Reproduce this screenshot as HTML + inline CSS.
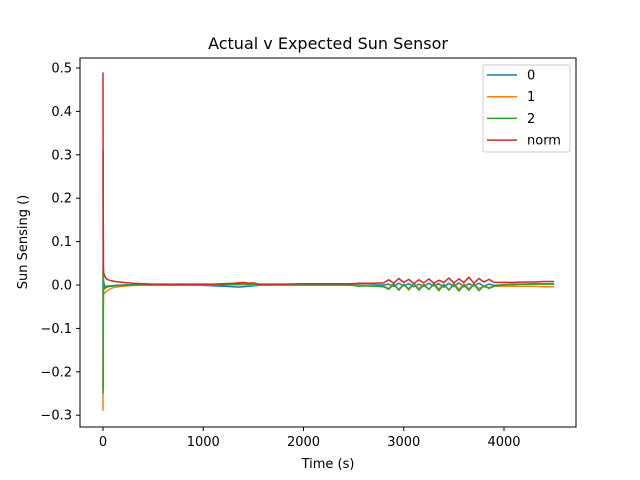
<!DOCTYPE html>
<html><head><meta charset="utf-8"><style>
body{margin:0;background:#fff}
svg{display:block;font-family:"DejaVu Sans","Liberation Sans",sans-serif}
</style></head><body>
<svg id="chart" width="640" height="480">
<rect x="0" y="0" width="640" height="480" fill="#fff"/>
<text x="328" y="49" text-anchor="middle" font-size="16">Actual v Expected Sun Sensor</text>
<text x="328" y="468" text-anchor="middle" font-size="13">Time (s)</text>
<text transform="translate(27,242) rotate(-90)" text-anchor="middle" font-size="13">Sun Sensing ()</text>
<g id="ticks"></g>
<clipPath id="clip"><rect x="80" y="58" width="496" height="369"/></clipPath>
<g id="series" clip-path="url(#clip)"></g>
<rect x="80" y="58" width="496" height="369" fill="none" stroke="#000" stroke-width="1"/>
<g id="legend">
<rect x="483" y="65" width="87" height="87" fill="#fff" fill-opacity="0.8" stroke="#ccc" rx="2"/>
</g>
</svg>
<script>
const times=[0,2,4,6,10,20,30,50,80,120,200,300,400,500,600,700,800,900,1000,1100,1200,1300,1350,1400,1450,1500,1550,1600,1800,2000,2200,2400,2500,2550,2600,2700,2800,2850,2900,2950,3000,3050,3100,3150,3200,3250,3300,3350,3400,3450,3500,3550,3600,3650,3700,3750,3800,3850,3900,4000,4100,4200,4300,4400,4500];
const s0=[0.31,-0.24,0.02,-0.01,0.005,-0.005,-0.003,-0.002,-0.002,-0.001,0,0.001,0.001,0.001,0,0,0,0,-0.001,-0.002,-0.003,-0.004,-0.005,-0.004,-0.003,-0.002,-0.001,0,0.001,0.001,0.001,0.001,0,0,0,0,0,0.002,-0.003,0.004,-0.002,0.003,-0.004,0.002,-0.003,0.004,-0.002,0.003,-0.005,0.004,-0.003,0.005,-0.004,0.003,-0.002,0.004,-0.003,0.002,-0.001,0.001,0.002,0.002,0.003,0.003,0.003];
const s1=[-0.29,0.1,-0.05,-0.02,-0.02,-0.018,-0.015,-0.012,-0.008,-0.005,-0.003,-0.001,0,0,0.001,-0.001,0.001,0,0,0,0,0.001,0,0.001,0,-0.001,0,0,0,0,0,0,0,-0.002,0,-0.002,-0.003,-0.008,0.003,-0.01,0.002,-0.012,0.004,-0.008,0.002,-0.01,0.003,-0.009,0.002,-0.012,0.004,-0.01,0.003,-0.009,0.002,-0.008,-0.004,-0.006,-0.003,-0.003,-0.003,-0.003,-0.003,-0.004,-0.004];
const s2=[-0.25,0.05,-0.02,0.01,-0.01,-0.008,-0.006,-0.004,-0.003,-0.002,-0.001,0,0,0,0,0,0,0,0,0,0,0.001,0.002,0.003,0.002,0.001,0,0,0,0,0,0,-0.001,-0.003,-0.002,-0.003,-0.004,-0.01,0.002,-0.012,0.001,-0.009,0.003,-0.012,0,-0.01,0.002,-0.013,0.001,-0.011,0.002,-0.014,0,-0.012,0.002,-0.013,-0.002,-0.008,-0.003,0.001,0.001,0.002,0.002,0.002,0.002];
const sNorm=[0.49,0.2,0.05,0.03,0.025,0.02,0.015,0.012,0.01,0.008,0.006,0.004,0.003,0.002,0.002,0.002,0.002,0.002,0.002,0.002,0.003,0.004,0.005,0.006,0.004,0.005,0.002,0.002,0.002,0.003,0.003,0.003,0.003,0.004,0.004,0.004,0.005,0.012,0.004,0.015,0.006,0.013,0.003,0.012,0.005,0.014,0.004,0.011,0.006,0.016,0.005,0.014,0.006,0.018,0.004,0.015,0.007,0.013,0.006,0.006,0.006,0.007,0.007,0.008,0.008];
const seriesNames=["0","1","2","norm"];
const seriesColors=["#1f77b4","#ff7f0e","#2ca02c","#d62728"];
const xTicks=[0,1000,2000,3000,4000];
const yTicks=[-0.3,-0.2,-0.1,0.0,0.1,0.2,0.3,0.4,0.5];
const X=t=>103+t*0.10025;
const Y=v=>285-v*434;
const NS="http://www.w3.org/2000/svg";
function mk(tag,attrs,parent){const e=document.createElementNS(NS,tag);for(const k in attrs)e.setAttribute(k,attrs[k]);parent.appendChild(e);return e;}
const tg=document.getElementById('ticks');
xTicks.forEach(t=>{
  const l=mk('line',{x1:X(t),x2:X(t),y1:427,y2:431,stroke:'#000'},tg);
  
  
  const tx=mk('text',{x:X(t),y:446,'text-anchor':'middle','font-size':13},tg);
  tx.textContent=String(t);
  
  
});
yTicks.forEach(v=>{
  const l=mk('line',{x1:76,x2:80,y1:Y(v),y2:Y(v),stroke:'#000'},tg);
  
  
  const tx=mk('text',{x:72,y:Y(v)+4.5,'text-anchor':'end','font-size':13},tg);
  tx.textContent=(v<0?'\u2212':'')+Math.abs(v).toFixed(1);
  
  
});
const sg=document.getElementById('series');
[s0,s1,s2,sNorm].forEach((arr,i)=>{
  const pts=arr.map((v,j)=>X(times[j]).toFixed(2)+','+Y(v).toFixed(2)).join(' ');
  const p=mk('polyline',{points:pts,fill:'none',stroke:seriesColors[i],'stroke-width':1.5,'stroke-linejoin':'round'},sg);
  
  
});
const lg=document.getElementById('legend');
seriesNames.forEach((n,i)=>{
  const y=75+i*21.7;
  const l=mk('line',{x1:487,x2:517,y1:y,y2:y,stroke:seriesColors[i],'stroke-width':1.5},lg);
  
  
  const t=mk('text',{x:527,y:y+4.5,'font-size':13},lg);
  t.textContent=n;
  
  
});
</script>
</body></html>
